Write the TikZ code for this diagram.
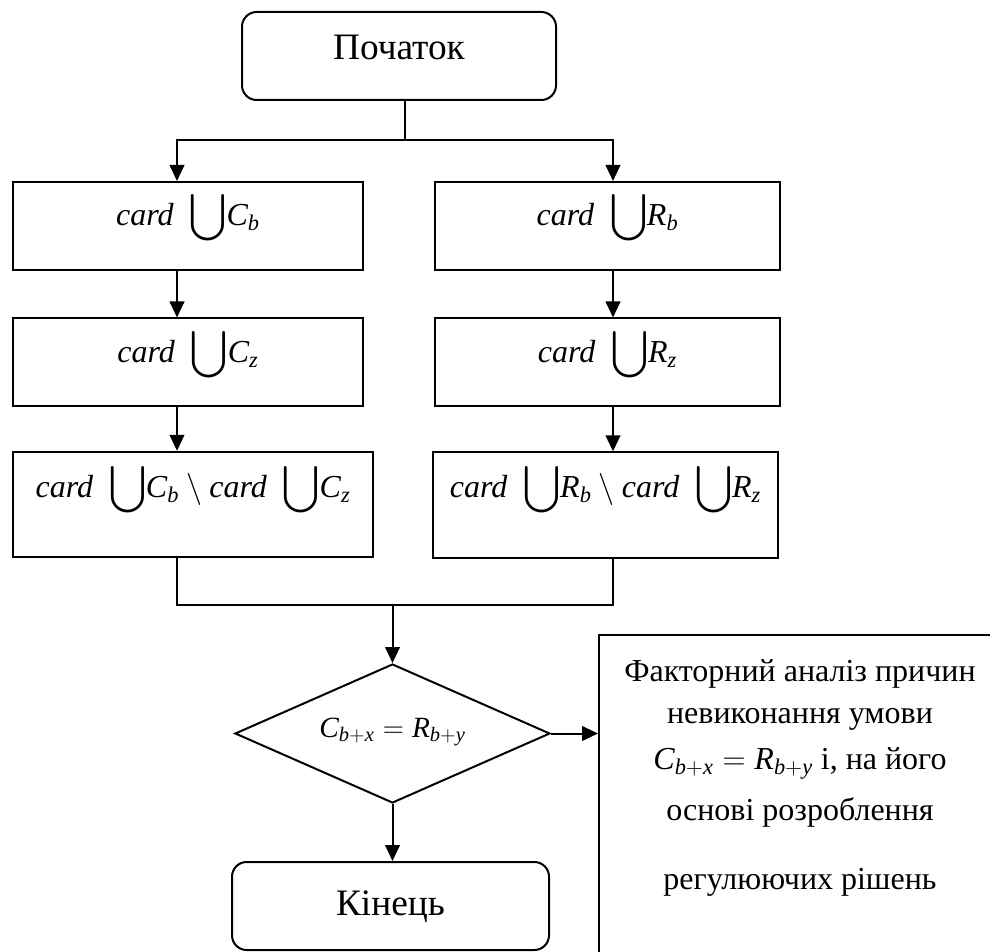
\documentclass[tikz,border=0pt]{standalone}
\usepackage{fix-cm}
\usepackage{amsmath}
\usepackage{fontspec}
\setmainfont{Liberation Serif}
\usetikzlibrary{arrows.meta,shapes.geometric}

\begin{document}
\begin{tikzpicture}[x=0.75pt,y=-0.75pt,line width=1.5pt,
    every node/.style={font=\fontsize{22}{26}\selectfont},
    arr/.style={-{Triangle[length=12pt,width=11pt]}},
    terminal/.style={draw,rounded corners=11pt,minimum height=66pt,inner sep=0pt,
      font=\fontsize{28}{34}\selectfont,text height=20pt},
    block/.style={draw,minimum height=66pt,inner sep=0pt,font=\fontsize{24}{28}\selectfont,
      text height=20pt,text depth=20pt},
    tallblock/.style={draw,minimum height=79pt,inner sep=0pt,font=\fontsize{24}{28}\selectfont,
      text height=20pt,text depth=30.5pt},
    check/.style={draw,diamond,aspect=2,inner sep=0pt,minimum width=236.25pt,
      minimum height=104.25pt,text height=14pt,text depth=8.75pt}]
    \useasboundingbox (0,0) rectangle (990,952);
    \clip (0,0) rectangle (990,952);
    % start
    \node[terminal,minimum width=235.5pt,text depth=14pt] (start) at (399,56) {Початок};
    \coordinate (fork) at (405,140);
    \coordinate (lcol) at (177,140);
    \coordinate (rcol) at (613,140);
    % left branch
    \node[block,minimum width=262.5pt] (c1) at (188,226)
      {$\textit{card}\enspace{\displaystyle\bigcup}\textit{C}_{\textit{b}}$};
    \node[block,minimum width=262.5pt] (c2) at (188,362.5)
      {$\textit{card}\enspace{\displaystyle\bigcup}\textit{C}_{\textit{z}}$};
    \node[tallblock,minimum width=270pt] (c3) at (193,504.5)
      {$\textit{card}\enspace{\displaystyle\bigcup}\textit{C}_{\textit{b}}\setminus\textit{card}\enspace{\displaystyle\bigcup}\textit{C}_{\textit{z}}$};
    % right branch
    \node[block,minimum width=258.75pt] (r1) at (607.5,226)
      {$\textit{card}\enspace{\displaystyle\bigcup}\textit{R}_{\textit{b}}$};
    \node[block,minimum width=258.75pt] (r2) at (607.5,362.5)
      {$\textit{card}\enspace{\displaystyle\bigcup}\textit{R}_{\textit{z}}$};
    \node[tallblock,minimum width=258.75pt] (r3) at (605.5,505)
      {$\textit{card}\enspace{\displaystyle\bigcup}\textit{R}_{\textit{b}}\setminus\textit{card}\enspace{\displaystyle\bigcup}\textit{R}_{\textit{z}}$};
    % condition
    \coordinate (join) at (393,605);
    \node[check] (dec) at (392.5,733.5)
      {$\textit{C}_{\textit{b}+\textit{x}} = \textit{R}_{\textit{b}+\textit{y}}$};
    % analysis
    \node[draw,anchor=north west,minimum width=303pt,minimum height=300pt] (note) at (598,634) {};
    \node[align=center,inner sep=0pt,anchor=north,font=\fontsize{24}{31.5}\selectfont] (notetext) at (800,659)
      {Факторний аналіз причин\\
       невиконання умови\\[3pt]
       $\textit{C}_{\textit{b}+\textit{x}} = \textit{R}_{\textit{b}+\textit{y}}$ і, на його\\[6.75pt]
       основі розроблення\\[20.25pt]
       регулюючих рішень};
    % end
    \node[terminal,minimum width=237.75pt,text depth=6.5pt] (stop) at (390.5,906) {Кінець};
    % connectors
    \draw (start.south -| fork) -- (fork);
    \draw[arr] (fork) -- (lcol) -- (c1.north -| lcol);
    \draw[arr] (fork) -- (rcol) -- (r1.north -| rcol);
    \draw[arr] (c1.south -| lcol) -- (c2.north -| lcol);
    \draw[arr] (c2.south -| lcol) -- (c3.north -| lcol);
    \draw[arr] (r1.south -| rcol) -- (r2.north -| rcol);
    \draw[arr] (r2.south -| rcol) -- (r3.north -| rcol);
    \draw (c3.south -| lcol) -- (lcol |- join) -- (rcol |- join) -- (r3.south -| rcol);
    \draw[arr] (dec.north |- join) -- (dec.north);
    \draw[arr] (dec.east) -- (note.west |- dec.east);
    \draw[arr] (dec.south) -- (dec.south |- stop.north);
\end{tikzpicture}
\end{document}
